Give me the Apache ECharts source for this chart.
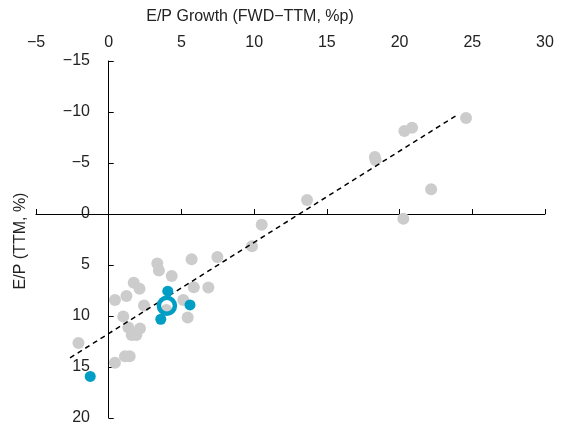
<!DOCTYPE html>
<html>
<head>
<meta charset="utf-8">
<script src="https://cdn.jsdelivr.net/npm/echarts@6/dist/echarts.min.js"></script>
<style>
html,body{margin:0;padding:0;background:#fff;}
#c{width:561px;height:429px;}
</style>
</head>
<body>
<div id="c"></div>
<script>
// ---- data ----
var xTitle = 'E/P Growth (FWD\u2212TTM, %p)';
var yTitle = 'E/P (TTM, %)';
var xMin = -5, xMax = 30, xStep = 5;
var yMin = -15, yMax = 20, yStep = 5;

// other stocks (grey)
var greyX = [24.57, 20.86, 20.33, 18.30, 18.35, 22.17, 20.26, 13.64, 10.52, 9.85,
             7.47, 5.70, 3.34, 3.45, 4.33, 1.72, 2.12, 5.85, 6.85, 1.22,
             0.43, 2.43, 5.13, 3.96, 5.43, 1.00, 1.35, 2.15, 1.58, 1.90,
             -2.08, 0.43, 1.12, 1.44];
var greyY = [-9.41, -8.46, -8.14, -5.60, -5.30, -2.42, 0.46, -1.37, 1.05, 3.17,
             4.22, 4.44, 4.85, 5.55, 6.07, 6.73, 7.33, 7.17, 7.20, 8.04,
             8.43, 8.97, 8.43, 9.41, 10.14, 10.06, 11.12, 11.22, 11.86, 11.86,
             12.65, 14.58, 13.95, 13.95];

// highlighted stocks (blue)
var blueX = [-1.27, 4.06, 5.59, 3.58];
var blueY = [15.92, 7.57, 8.92, 10.32];

// highlighted average (ring)
var ringX = [4.0];
var ringY = [9.0];

// regression trend line end points
var trendX = [-2.66, 23.95];
var trendY = [14.1, -9.7];

function zip(a, b) { return a.map(function (v, i) { return [v, b[i]]; }); }

var FONT = "'Liberation Sans', Arial, sans-serif";
var TXT = '#222';
var BLUE = '#009ec4';
var GREY = '#cccccc';

var chart = echarts.init(document.getElementById('c'));
chart.setOption({
  animation: false,
  backgroundColor: '#ffffff',
  textStyle: { fontFamily: FONT },
  grid: { left: 36, right: 16, top: 61, bottom: 11, containLabel: false, outerBoundsMode: 'none' },
  xAxis: [
    {
      type: 'value', position: 'top', min: xMin, max: xMax, interval: xStep,
      axisLine: { show: false }, axisTick: { show: false }, splitLine: { show: false },
      axisLabel: { margin: 10, fontSize: 16, color: TXT, fontFamily: FONT,
        formatter: function (v) { return String(v).replace('-', '\u2212'); } }
    },
    {
      type: 'value', position: 'top', min: xMin, max: xMax, interval: xStep,
      axisLine: { show: true, onZero: true, onZeroAxisIndex: 0, lineStyle: { color: '#000', width: 1 } },
      axisTick: { show: true, inside: false, length: 5, lineStyle: { color: '#000' } },
      axisLabel: { show: false }, splitLine: { show: false }
    }
  ],
  yAxis: [
    {
      type: 'value', inverse: true, min: yMin, max: yMax, interval: yStep,
      axisLine: { show: true, onZero: true, onZeroAxisIndex: 0, lineStyle: { color: '#000', width: 1 } },
      axisTick: { show: true, inside: true, length: 5, lineStyle: { color: '#000' } },
      splitLine: { show: false },
      axisLabel: { margin: -54, fontSize: 16, color: TXT, fontFamily: FONT,
        formatter: function (v) { return String(v).replace('-', '\u2212'); } }
    }
  ],
  graphic: [
    { type: 'text', x: 250, y: 17, z: 10,
      style: { text: xTitle, font: '16px ' + FONT, fill: TXT, align: 'center', verticalAlign: 'middle' } },
    { type: 'text', x: 21, y: 241, rotation: Math.PI / 2, z: 10,
      style: { text: yTitle, font: '16px ' + FONT, fill: TXT, align: 'center', verticalAlign: 'middle' } }
  ],
  series: [
    {
      type: 'scatter', xAxisIndex: 0, yAxisIndex: 0, data: zip(greyX, greyY),
      symbol: 'circle', symbolSize: 12, itemStyle: { color: GREY, opacity: 1 }, z: 2, silent: true
    },
    {
      type: 'line', xAxisIndex: 0, yAxisIndex: 0, data: zip(trendX, trendY),
      symbol: 'none', lineStyle: { color: '#000', width: 1.5, type: [5, 4] }, z: 3, silent: true
    },
    {
      type: 'scatter', xAxisIndex: 0, yAxisIndex: 0, data: zip(blueX, blueY),
      symbol: 'circle', symbolSize: 11, itemStyle: { color: BLUE, opacity: 1 }, z: 4, silent: true
    },
    {
      type: 'scatter', xAxisIndex: 0, yAxisIndex: 0, data: zip(ringX, ringY),
      symbol: 'circle', symbolSize: 16,
      itemStyle: { color: 'rgba(0,0,0,0)', borderColor: BLUE, borderWidth: 4.5, opacity: 1 }, z: 5, silent: true
    }
  ]
});
</script>
</body>
</html>
